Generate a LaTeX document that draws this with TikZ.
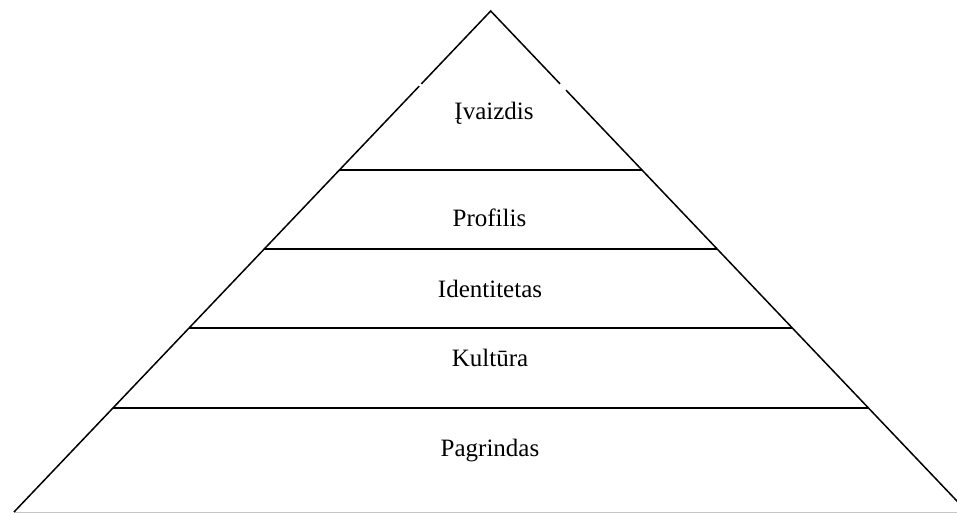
\documentclass[tikz,border=0pt]{standalone}
\usepackage{fontspec}
\setmainfont{Liberation Serif}
\usetikzlibrary{calc}
\begin{document}
\begin{tikzpicture}[x=1pt,y=-1pt,
  side/.style={line width=1.5pt,black},
  level/.style={line width=2pt,black},
  lab/.style={anchor=base,inner sep=0pt,font=\fontsize{25}{30}\selectfont}]
\useasboundingbox (0,0) rectangle (957,513);
\clip (0,0) rectangle (957,513);
\fill[white] (0,0) rectangle (957,513);
\coordinate (A) at (490.7,11);
\coordinate (L) at (14,512);
\coordinate (R) at (967.4,512);
% base line
\draw[line width=1pt,gray!45] (14,512.5) -- (957,512.5);
% sides
\draw[side] (L) -- (A) -- (R);
% small breaks in the sides
\draw[white,line width=3pt] ($(A)!{(84-11)/501}!(L)$) -- ($(A)!{(86-11)/501}!(L)$);
\draw[white,line width=3pt] ($(A)!{(84-11)/501}!(R)$) -- ($(A)!{(90-11)/501}!(R)$);
% levels
\foreach \yy in {170,249.3,328,408}{
  \draw[level] ($(A)!{(\yy-11)/501}!(L)$) -- ($(A)!{(\yy-11)/501}!(R)$);
}
\node[lab] (n1) at (494,120) {Įvaizdis};
\node[lab] (n2) at (489.5,226.7) {Profilis};
\node[lab] (n3) at (490,297) {Identitetas};
\node[lab] (n4) at (490,366) {Kultūra};
\node[lab] (n5) at (490,456) {Pagrindas};
\end{tikzpicture}
\end{document}
